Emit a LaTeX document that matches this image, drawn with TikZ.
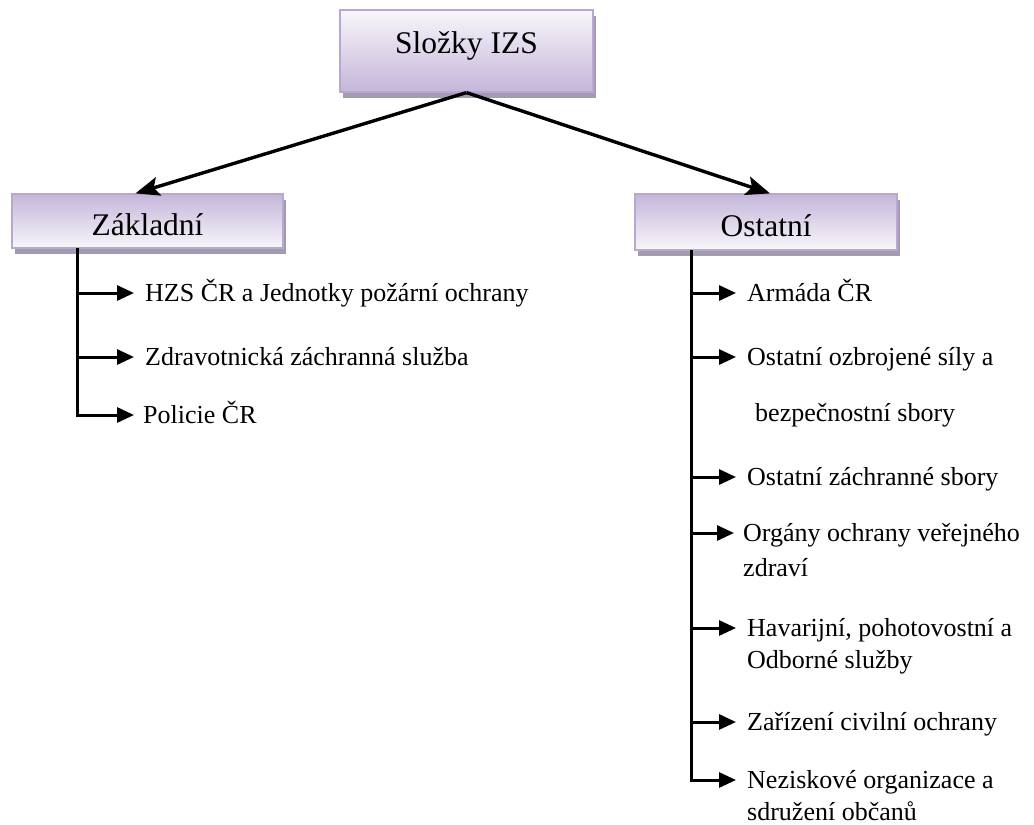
\documentclass[tikz,border=0pt]{standalone}
\usepackage{fontspec}
\setmainfont{Liberation Serif}
\usetikzlibrary{arrows.meta,shadows}

\definecolor{boxline}{RGB}{184,168,208}
\definecolor{boxlight}{RGB}{248,246,250}
\definecolor{boxdark}{RGB}{196,182,218}
\definecolor{boxshadow}{RGB}{163,155,176}

\tikzset{
  izsbox/.style={draw=boxline, line width=1.2pt, rectangle,
    drop shadow={shadow xshift=3pt, shadow yshift=-6pt, fill=boxshadow, opacity=1},
    font=\fontsize{31.5}{36}\selectfont, inner sep=0pt},
  item/.style={anchor=west, inner sep=0pt, text height=17pt, text depth=0pt,
    font=\fontsize{26}{30}\selectfont},
  mainarrow/.style={line width=3.4pt, -{Stealth[length=24pt,width=19pt,inset=5pt]}},
  itemarrow/.style={line width=3pt, -{Triangle[length=17pt,width=15pt]}, shorten >=11pt}
}

\begin{document}
\begin{tikzpicture}[x=1pt,y=-1pt]
  \useasboundingbox (0,0) rectangle (1034,825);

  % Boxes
  \node[izsbox, top color=boxlight, bottom color=boxdark,
        minimum width=253pt, minimum height=82pt,
        text height=23pt, text depth=19pt] (izs) at (466.5,51) {Složky IZS};
  \node[izsbox, top color=boxdark, bottom color=boxlight,
        minimum width=271pt, minimum height=54pt,
        text height=28pt, text depth=0pt] (zakl) at (147.5,221) {Základní};
  \node[izsbox, top color=boxdark, bottom color=boxlight,
        minimum width=262pt, minimum height=56pt,
        text height=28pt, text depth=0pt] (ost) at (766,222) {Ostatní};

  % Main arrows
  \draw[mainarrow] (izs.south) -- ([xshift=-12pt]zakl.north);
  \draw[mainarrow] (izs.south) -- ([xshift=4pt]ost.north);

  % Zakladni slozky
  \node[item] (hzs) at (145,293) {HZS ČR a Jednotky požární ochrany};
  \node[item] (zzs) at (145,357) {Zdravotnická záchranná služba};
  \node[item] (pcr) at (143,415) {Policie ČR};

  \coordinate (ltop) at (77,248);
  \foreach \n in {hzs,zzs}
    \draw[itemarrow] (ltop |- \n.west) -- (\n.west);
  \draw[itemarrow, shorten >=9pt] (ltop) -- (ltop |- pcr.west) -- (pcr.west);

  % Ostatni slozky
  \node[item] (armada) at (747,293) {Armáda ČR};
  \node[item] (ozbr) at (747,357) {Ostatní ozbrojené síly a};
  \node[item] (ozbr2) at (755,413) {bezpečnostní sbory};
  \node[item] (zachr) at (747,477) {Ostatní záchranné sbory};
  \node[item] (organy) at (743,533) {Orgány ochrany veřejného};
  \node[item] (organy2) at (743,568) {zdraví};
  \node[item] (havar) at (747,628) {Havarijní, pohotovostní a};
  \node[item] (havar2) at (747,660) {Odborné služby};
  \node[item] (zariz) at (747,722) {Zařízení civilní ochrany};
  \node[item] (nezisk) at (747,780) {Neziskové organizace a};
  \node[item] (nezisk2) at (747,812) {sdružení občanů};

  \coordinate (rtop) at (691,250);
  \foreach \n in {armada,ozbr,zachr,havar,zariz}
    \draw[itemarrow] (rtop |- \n.west) -- (\n.west);
  \draw[itemarrow, shorten >=9pt] (rtop |- organy.west) -- (organy.west);
  \draw[itemarrow] (rtop) -- (rtop |- nezisk.west) -- (nezisk.west);
\end{tikzpicture}
\end{document}
